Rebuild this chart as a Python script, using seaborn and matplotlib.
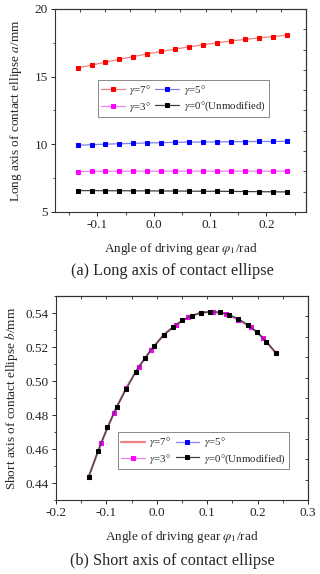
import numpy as np
import pandas as pd
import seaborn as sns
import matplotlib.pyplot as plt
from matplotlib.ticker import MultipleLocator

# Data
# (a) long axis, 16 positions of the driving gear
phi_long = np.linspace(-0.135, 0.236, 16)
long_g7 = [15.65, 15.85, 16.07, 16.28, 16.48, 16.68, 16.86, 17.03,
           17.20, 17.35, 17.50, 17.63, 17.75, 17.86, 17.96, 18.06]
long_g5 = [9.93, 9.97, 10.01, 10.04, 10.07, 10.10, 10.12, 10.14,
           10.16, 10.17, 10.18, 10.19, 10.20, 10.21, 10.21, 10.22]
long_g3 = [7.98, 8.00, 8.01, 8.01, 8.02, 8.02, 8.02, 8.02,
           8.02, 8.02, 8.02, 8.02, 8.02, 8.02, 8.02, 8.02]
long_g0 = [6.58, 6.58, 6.57, 6.57, 6.56, 6.56, 6.55, 6.55,
           6.54, 6.53, 6.53, 6.52, 6.51, 6.50, 6.49, 6.48]

# (b) short axis, modified curves (16 points) and unmodified curve (21 points)
phi_short_mod = np.linspace(-0.135, 0.236, 16)
short_mod = [0.4438, 0.4636, 0.4810, 0.4958, 0.5081, 0.5183, 0.5272, 0.5331,
             0.5376, 0.5403, 0.5408, 0.5396, 0.5360, 0.5317, 0.5252, 0.5166]
phi_short_g0 = np.linspace(-0.135, 0.236, 21)
short_g0 = [0.4438, 0.4589, 0.4727, 0.4849, 0.4953, 0.5053, 0.5134, 0.5207,
            0.5268, 0.5317, 0.5356, 0.5384, 0.5400, 0.5408, 0.5404, 0.5390,
            0.5366, 0.5331, 0.5288, 0.5231, 0.5166]

labels = ["$\\gamma$=7°", "$\\gamma$=5°", "$\\gamma$=3°", "$\\gamma$=0°(Unmodified)"]
marker_colors = ["#ff0000", "#0000ff", "#ff00ff", "#000000"]
line_colors = ["#f08080", "#8080f0", "#f080f0", "#404040"]

sns.set_style("ticks")
plt.rcParams['font.family'] = ['Liberation Serif', 'DejaVu Serif']
plt.rcParams['mathtext.fontset'] = 'stix'
plt.rcParams['axes.linewidth'] = 0.8

fig = plt.figure(figsize=(3.2, 5.74), dpi=100)
ax1 = fig.add_axes([0.172, 0.6307, 0.784, 0.3537])
ax2 = fig.add_axes([0.175, 0.1289, 0.7875, 0.3554])

# top panel
long_series = [long_g7, long_g5, long_g3, long_g0]
for vals, lab, mc, lc in zip(long_series, labels, marker_colors, line_colors):
    df = pd.DataFrame({"phi": phi_long, "a": vals})
    sns.lineplot(data=df, x="phi", y="a", ax=ax1, color=lc, lw=0.9,
                 marker="s", markersize=3.3, markerfacecolor=mc,
                 markeredgecolor=mc, label=lab)

# bottom panel
short_x = [phi_short_mod, phi_short_mod, phi_short_mod, phi_short_g0]
short_series = [short_mod, short_mod, short_mod, short_g0]
short_markers = [None, "s", "s", "s"]
for xs, vals, lab, mc, lc, mk in zip(short_x, short_series, labels, marker_colors,
                                      line_colors, short_markers):
    df = pd.DataFrame({"phi": xs, "b": vals})
    lw = 1.6 if mk is None else 0.9
    sns.lineplot(data=df, x="phi", y="b", ax=ax2, color=lc, lw=lw,
                 marker=mk, markersize=2.9, markerfacecolor=mc,
                 markeredgecolor=mc, label=lab)

ax1.set_xlim(-0.175, 0.27)
ax1.set_ylim(5, 20)
ax1.xaxis.set_major_locator(MultipleLocator(0.1))
ax1.xaxis.set_minor_locator(MultipleLocator(0.05))
ax1.yaxis.set_major_locator(MultipleLocator(5))
ax1.yaxis.set_minor_locator(MultipleLocator(2.5))
ax1.xaxis.set_major_formatter(lambda v, p: f"{v:.1f}")

ax2.set_xlim(-0.2, 0.3)
ax2.set_ylim(0.43, 0.55)
ax2.xaxis.set_major_locator(MultipleLocator(0.1))
ax2.xaxis.set_minor_locator(MultipleLocator(0.05))
ax2.yaxis.set_major_locator(MultipleLocator(0.02))
ax2.yaxis.set_minor_locator(MultipleLocator(0.01))
ax2.xaxis.set_major_formatter(lambda v, p: f"{v:.1f}")
ax2.yaxis.set_major_formatter(lambda v, p: f"{v:.2f}")

for ax in (ax1, ax2):
    for s in ax.spines.values():
        s.set_visible(True)
        s.set_color("#333333")
    ax.tick_params(which="major", direction="out", length=3, width=0.7, labelsize=9.5, pad=2)
    ax.tick_params(which="minor", direction="out", length=1.8, width=0.6)
    # Origin-style inner ticks on the right and top spines
    lo, hi = ax.get_ylim()
    sec_y = ax.secondary_yaxis("right")
    sec_y.set_yticks(np.linspace(lo, hi, 11)[1:-1])
    sec_y.tick_params(direction="in", length=2.5, width=0.6, labelright=False)
    xlo, xhi = ax.get_xlim()
    sec_x = ax.secondary_xaxis("top")
    sec_x.set_xticks(np.linspace(xlo, xhi, 11)[1:-1])
    sec_x.tick_params(direction="in", length=2.5, width=0.6, labeltop=False)

ax1.set_xlabel("Angle of driving gear $\\varphi_1$/rad", fontsize=9.5, labelpad=7)
ax1.set_ylabel("Long axis of contact ellipse $a$/mm", fontsize=9.5, labelpad=8)
ax2.set_xlabel("Angle of driving gear $\\varphi_1$/rad", fontsize=9.5, labelpad=7)
ax2.set_ylabel("Short axis of contact ellipse $b$/mm", fontsize=9.5, labelpad=4)

# legend order so that rows read 7°, 5° / 3°, 0°
leg_kw = dict(ncol=2, loc="upper left", fontsize=7.8, frameon=True, fancybox=False,
              framealpha=1, edgecolor="#888888", handlelength=2.2, handletextpad=0.4,
              columnspacing=0.4, borderpad=0.3, labelspacing=0.25, borderaxespad=0)
order = [0, 2, 1, 3]
for ax, anchor in ((ax1, (0.171, 0.650)), (ax2, (0.246, 0.333))):
    h, l = ax.get_legend_handles_labels()
    leg = ax.legend([h[i] for i in order], [l[i] for i in order],
                    bbox_to_anchor=anchor, **leg_kw)
    leg.get_frame().set_linewidth(0.7)

fig.text(0.54, 1 - 271 / 574, "(a) Long axis of contact ellipse", ha="center", va="center", fontsize=11.7)
fig.text(0.54, 1 - 561 / 574, "(b) Short axis of contact ellipse", ha="center", va="center", fontsize=11.7)

fig.savefig("out.png", dpi=100)
